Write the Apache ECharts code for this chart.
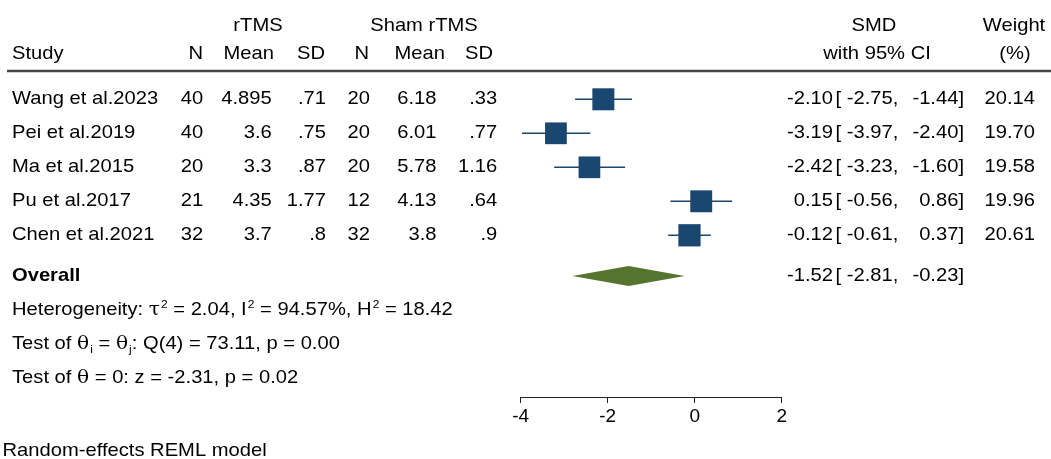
<!DOCTYPE html>
<html>
<head>
<meta charset="utf-8">
<script src="https://cdn.jsdelivr.net/npm/echarts@6/dist/echarts.min.js"></script>
<style>html,body{margin:0;padding:0;background:#fff;}#c{width:1051px;height:459px;}</style>
</head>
<body>
<div id="c"></div>
<script>
// ---------- data ----------
const studies   = ['Wang et al.2023', 'Pei et al.2019', 'Ma et al.2015', 'Pu et al.2017', 'Chen et al.2021'];
const rtmsN     = ['40', '40', '20', '21', '32'];
const rtmsMean  = ['4.895', '3.6', '3.3', '4.35', '3.7'];
const rtmsSD    = ['.71', '.75', '.87', '1.77', '.8'];
const shamN     = ['20', '20', '20', '12', '32'];
const shamMean  = ['6.18', '6.01', '5.78', '4.13', '3.8'];
const shamSD    = ['.33', '.77', '1.16', '.64', '.9'];
const smd       = [-2.10, -3.19, -2.42, 0.15, -0.12];
const ciLow     = [-2.75, -3.97, -3.23, -0.56, -0.61];
const ciHigh    = [-1.44, -2.40, -1.60, 0.86, 0.37];
const weights   = [20.14, 19.70, 19.58, 19.96, 20.61];
const overall   = { est: -1.52, lo: -2.81, hi: -0.23 };
const hetero    = { tau2: '2.04', I2: '94.57%', H2: '18.42' };
const qTest     = { df: 4, Q: '73.11', p: '0.00' };
const zTest     = { z: '-2.31', p: '0.02' };
const xTicks    = { min: -4, max: 2, interval: 2 };
const modelNote = 'Random-effects REML model';

// ---------- layout / style ----------
const NAVY = '#1a476f', GREEN = '#55752f';
const FONT = '"Liberation Sans", Arial, Helvetica, sans-serif';
const FS = 18.5, SX = 1.09;
const studyRows = studies.map((s, i) => i);
const overallRow = 5.2;
const textRows = [6.2, 7.2, 8.2];
const SQUARE_K = 22 / Math.sqrt(20.14);

const chart = echarts.init(document.getElementById('c'), null, { renderer: 'canvas' });

const studyData = smd.map((v, i) => [v, studyRows[i], ciLow[i], ciHigh[i], weights[i]]);

chart.setOption({
  animation: false,
  backgroundColor: '#fff',
  grid: { left: 520.7, right: 269.3, top: 31.3, bottom: 62, containLabel: false },
  xAxis: {
    type: 'value', min: xTicks.min, max: xTicks.max, interval: xTicks.interval,
    position: 'bottom',
    axisLine: { show: true, onZero: false, lineStyle: { color: '#222', width: 1 } },
    axisTick: { show: true, length: 6, lineStyle: { color: '#222', width: 1 } },
    axisLabel: { fontSize: 19, fontFamily: FONT, color: '#000', margin: 10 },
    splitLine: { show: false }
  },
  yAxis: {
    type: 'value', inverse: true, min: -2, max: 8.756, show: false
  },
  series: [
    {
      type: 'custom',
      data: studyData,
      encode: { x: 0, y: 1 },
      renderItem: function (params, api) {
        const row = api.value(1);
        const c = api.coord([api.value(0), row]);
        const l = api.coord([api.value(2), row]);
        const h = api.coord([api.value(3), row]);
        const side = SQUARE_K * Math.sqrt(api.value(4));
        return {
          type: 'group',
          children: [
            { type: 'line', shape: { x1: l[0], y1: l[1], x2: h[0], y2: h[1] }, style: { stroke: NAVY, lineWidth: 1.5 } },
            { type: 'rect', shape: { x: c[0] - side / 2, y: c[1] - side / 2, width: side, height: side }, style: { fill: NAVY } }
          ]
        };
      }
    },
    {
      type: 'custom',
      data: [[overall.est, overallRow, overall.lo, overall.hi]],
      encode: { x: 0, y: 1 },
      renderItem: function (params, api) {
        const row = api.value(1);
        const c = api.coord([api.value(0), row]);
        const l = api.coord([api.value(2), row]);
        const h = api.coord([api.value(3), row]);
        const hh = 10;
        return {
          type: 'polygon',
          shape: { points: [[l[0], l[1]], [c[0], c[1] - hh], [h[0], h[1]], [c[0], c[1] + hh]] },
          style: { fill: GREEN }
        };
      }
    }
  ]
});

// ---------- text table ----------
const rowY = v => chart.convertToPixel({ yAxisIndex: 0 }, v);

function txt(text, x, y, align, extra) {
  const style = Object.assign({
    text: text, x: 0, y: 0, fill: '#000', fontSize: FS, fontFamily: FONT,
    align: align, verticalAlign: 'middle'
  }, extra || {});
  return { type: 'text', x: x, y: y, scaleX: SX, silent: true, style: style };
}

const g = [];
// header
const H1 = 26, H2 = 54;
g.push(txt('rTMS', 258, H1, 'center'));
g.push(txt('Sham rTMS', 424, H1, 'center'));
g.push(txt('SMD', 874, H1, 'center'));
g.push(txt('Weight', 1014, H1, 'center'));
g.push(txt('Study', 12, H2, 'left'));
g.push(txt('N', 203, H2, 'right'));
g.push(txt('Mean', 274, H2, 'right'));
g.push(txt('SD', 325, H2, 'right'));
g.push(txt('N', 369, H2, 'right'));
g.push(txt('Mean', 445, H2, 'right'));
g.push(txt('SD', 493, H2, 'right'));
g.push(txt('with 95% CI', 877, H2, 'center'));
g.push(txt('(%)', 1015, H2, 'center'));
g.push({ type: 'line', silent: true, shape: { x1: 7, y1: 71, x2: 1051, y2: 71 }, style: { stroke: '#444', lineWidth: 2.3 } });

const f2 = v => v.toFixed(2);
studies.forEach((s, i) => {
  const y = rowY(studyRows[i]);
  g.push(txt(s, 12, y, 'left'));
  g.push(txt(rtmsN[i], 203.3, y, 'right'));
  g.push(txt(rtmsMean[i], 271.7, y, 'right'));
  g.push(txt(rtmsSD[i], 326, y, 'right'));
  g.push(txt(shamN[i], 370, y, 'right'));
  g.push(txt(shamMean[i], 436.5, y, 'right'));
  g.push(txt(shamSD[i], 497.3, y, 'right'));
  g.push(txt(f2(smd[i]), 833, y, 'right'));
  g.push(txt('[ ' + f2(ciLow[i]) + ',', 835.5, y, 'left'));
  g.push(txt(f2(ciHigh[i]) + ']', 964, y, 'right'));
  g.push(txt(f2(weights[i]), 1035, y, 'right'));
});

const yo = rowY(overallRow);
g.push(txt('Overall', 12, yo, 'left', { fontWeight: 'bold' }));
g.push(txt(f2(overall.est), 833, yo, 'right'));
g.push(txt('[ ' + f2(overall.lo) + ',', 835.5, yo, 'left'));
g.push(txt(f2(overall.hi) + ']', 964, yo, 'right'));

const rich = {
  n: { fontSize: FS, fontFamily: FONT, fill: '#000', lineHeight: 22 },
  g: { fontSize: FS, fontFamily: '"DejaVu Serif", serif', fill: '#000', lineHeight: 22 },
  sup: { fontSize: 11, fontFamily: FONT, fill: '#000', verticalAlign: 'top', lineHeight: 12, padding: [0, 0, 0, 1] },
  sub: { fontSize: 11, fontFamily: FONT, fill: '#000', verticalAlign: 'bottom', lineHeight: 10, padding: [0, 0, 0, 1] }
};
const heteroStr = '{n|Heterogeneity: }{g|τ}{sup|2}{n| = ' + hetero.tau2 + ', I}{sup|2}{n| = ' + hetero.I2 + ', H}{sup|2}{n| = ' + hetero.H2 + '}';
const qStr = '{n|Test of }{g|θ}{sub|i}{n| = }{g|θ}{sub|j}{n|: Q(' + qTest.df + ') = ' + qTest.Q + ', p = ' + qTest.p + '}';
const zStr = '{n|Test of }{g|θ}{n| = 0: z = ' + zTest.z + ', p = ' + zTest.p + '}';
[heteroStr, qStr, zStr].forEach((s, i) => {
  g.push(txt(s, 12, rowY(textRows[i]), 'left', { rich: rich }));
});

g.push(txt(modelNote, 2.5, 451, 'left'));

chart.setOption({ graphic: { elements: g } });
</script>
</body>
</html>
